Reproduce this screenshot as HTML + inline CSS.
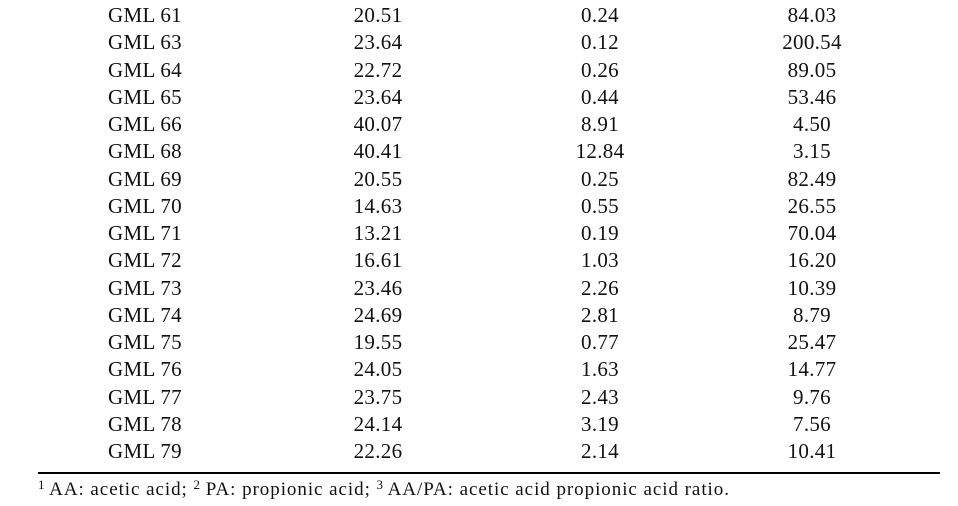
<!DOCTYPE html>
<html><head><style>
body{margin:0;width:958px;height:506px;background:#fff;position:relative;font-family:"Liberation Serif",serif;color:#111;overflow:hidden}
.r{position:absolute;left:0;width:958px;height:27px;font-size:21px;line-height:27px;letter-spacing:0.3px}
.r span{position:absolute;white-space:nowrap}
.a{left:108px}
.b{left:328px;width:100px;text-align:center}
.c{left:550px;width:100px;text-align:center}
.d{left:762px;width:100px;text-align:center}
.line{position:absolute;left:38px;top:472px;width:902px;height:2px;background:#000}
.fn{position:absolute;left:38px;top:477px;font-size:19px;letter-spacing:0.95px;white-space:nowrap}
sup{font-size:13px;vertical-align:6px;letter-spacing:0}
</style></head><body>
<div id="t"></div>
<script>
var d=[["GML 61","20.51","0.24","84.03"],["GML 63","23.64","0.12","200.54"],["GML 64","22.72","0.26","89.05"],["GML 65","23.64","0.44","53.46"],["GML 66","40.07","8.91","4.50"],["GML 68","40.41","12.84","3.15"],["GML 69","20.55","0.25","82.49"],["GML 70","14.63","0.55","26.55"],["GML 71","13.21","0.19","70.04"],["GML 72","16.61","1.03","16.20"],["GML 73","23.46","2.26","10.39"],["GML 74","24.69","2.81","8.79"],["GML 75","19.55","0.77","25.47"],["GML 76","24.05","1.63","14.77"],["GML 77","23.75","2.43","9.76"],["GML 78","24.14","3.19","7.56"],["GML 79","22.26","2.14","10.41"]];
var h="";d.forEach(function(r,i){h+='<div class="r" style="top:'+(2+i*27.25)+'px"><span class="a">'+r[0]+'</span><span class="b">'+r[1]+'</span><span class="c">'+r[2]+'</span><span class="d">'+r[3]+'</span></div>';});
document.getElementById("t").innerHTML=h;
</script>
<div class="line"></div>
<div class="fn"><sup>1</sup> AA: acetic acid; <sup>2</sup> PA: propionic acid; <sup>3</sup> AA/PA: acetic acid propionic acid ratio.</div>
</body></html>
